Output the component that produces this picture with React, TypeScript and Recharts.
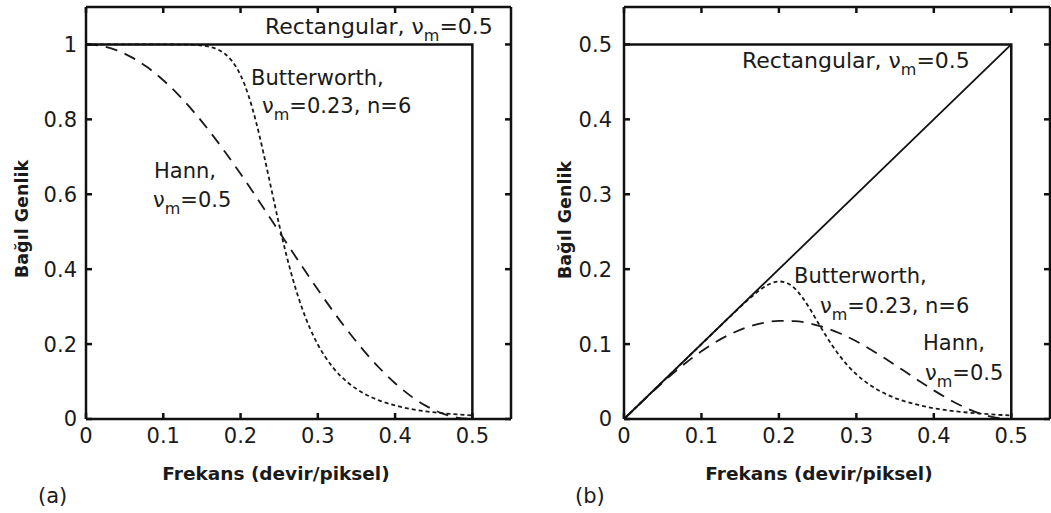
import { LineChart, Line, XAxis, YAxis } from 'recharts'

// frequency grids (devir/piksel)
const hannFreq = [0, 0.02, 0.04, 0.06, 0.08, 0.1, 0.12, 0.14, 0.16, 0.18, 0.2, 0.22, 0.24, 0.26, 0.28, 0.3, 0.32, 0.34, 0.36, 0.38, 0.4, 0.42, 0.44, 0.46, 0.48, 0.5]
const buttFreq = [0, 0.04, 0.08, 0.1, 0.12, 0.14, 0.15, 0.16, 0.17, 0.18, 0.19, 0.2, 0.21, 0.22, 0.23, 0.24, 0.25, 0.26, 0.27, 0.28, 0.29, 0.3, 0.32, 0.34, 0.36, 0.38, 0.4, 0.42, 0.44, 0.46, 0.48, 0.5]

// (a) filter amplitude
const hannA = [1, 0.9961, 0.9843, 0.9649, 0.9382, 0.9045, 0.8645, 0.8187, 0.7679, 0.7129, 0.6545, 0.5937, 0.5314, 0.4686, 0.4063, 0.3455, 0.2871, 0.2321, 0.1813, 0.1355, 0.0955, 0.0618, 0.0351, 0.0157, 0.0039, 0]
const buttA = [1, 1, 1, 1, 0.9998, 0.9987, 0.9971, 0.9936, 0.987, 0.9746, 0.953, 0.9181, 0.8654, 0.7939, 0.7071, 0.6124, 0.5185, 0.4322, 0.357, 0.2937, 0.2415, 0.199, 0.1366, 0.0954, 0.0679, 0.0491, 0.0361, 0.027, 0.0204, 0.0156, 0.0121, 0.0095]
const rectAFreq = [0, 0.5, 0.5]
const rectA = [1, 1, 0]

// (b) filter x ramp
const hannB = [0, 0.0199, 0.0394, 0.0579, 0.0751, 0.0905, 0.1037, 0.1146, 0.1229, 0.1283, 0.1309, 0.1306, 0.1275, 0.1218, 0.1138, 0.1037, 0.0919, 0.0789, 0.0653, 0.0515, 0.0382, 0.026, 0.0154, 0.0072, 0.0019, 0]
const buttB = [0, 0.04, 0.08, 0.1, 0.12, 0.1398, 0.1496, 0.159, 0.1678, 0.1754, 0.1811, 0.1836, 0.1817, 0.1747, 0.1626, 0.147, 0.1296, 0.1124, 0.0964, 0.0822, 0.07, 0.0597, 0.0437, 0.0324, 0.0244, 0.0187, 0.0144, 0.0113, 0.009, 0.0072, 0.0058, 0.0048]
const rampFreq = [0, 0.5]
const ramp = [0, 0.5]
const rectBFreq = [0, 0.5, 0.5]
const rectB = [0.5, 0.5, 0]

const xTicks = [0, 0.1, 0.2, 0.3, 0.4, 0.5]
const yTicksA = [0, 0.2, 0.4, 0.6, 0.8, 1]
const yTicksB = [0, 0.1, 0.2, 0.3, 0.4, 0.5]

const zip = (xs: number[], ys: number[]) => xs.map((x, i) => ({ x, y: ys[i] }))

const FONT = 'DejaVu Sans'
const INK = '#1a1a1a'
const frame = { stroke: '#111', strokeWidth: 2.5 }
const tickStyle = { fontSize: 21, fill: INK, fontFamily: FONT }
const noLabel = () => <g />

type PanelProps = {
  width: number
  left: number
  right: number
  yMax: number
  yTicks: number[]
  yMargin: number
  hann: number[]
  butt: number[]
  children?: React.ReactNode
}

function Panel({ width, left, right, yMax, yTicks, yMargin, hann, butt, children }: PanelProps) {
  return (
    <LineChart width={width} height={513} margin={{ top: 6, right, bottom: 64, left }}>
      <XAxis
        xAxisId="b"
        dataKey="x"
        type="number"
        domain={[0, 0.55]}
        ticks={xTicks}
        interval={0}
        tickSize={-6}
        tickMargin={15}
        height={30}
        axisLine={frame}
        tickLine={frame}
        tick={tickStyle}
      />
      <XAxis
        xAxisId="t"
        orientation="top"
        dataKey="x"
        type="number"
        domain={[0, 0.55]}
        ticks={xTicks}
        interval={0}
        tickSize={-6}
        height={1}
        axisLine={frame}
        tickLine={frame}
        tick={noLabel}
      />
      <YAxis
        yAxisId="l"
        type="number"
        domain={[0, yMax]}
        ticks={yTicks}
        interval={0}
        tickSize={-6}
        tickMargin={yMargin}
        width={60}
        axisLine={frame}
        tickLine={frame}
        tick={tickStyle}
      />
      <YAxis
        yAxisId="r"
        orientation="right"
        type="number"
        domain={[0, yMax]}
        ticks={yTicks}
        interval={0}
        tickSize={-6}
        width={1}
        axisLine={frame}
        tickLine={frame}
        tick={noLabel}
      />
      <Line
        xAxisId="b"
        yAxisId="l"
        data={zip(hannFreq, hann)}
        dataKey="y"
        type="monotone"
        stroke={INK}
        strokeWidth={1.8}
        strokeDasharray="12 8"
        dot={false}
        isAnimationActive={false}
      />
      <Line
        xAxisId="b"
        yAxisId="l"
        data={zip(buttFreq, butt)}
        dataKey="y"
        type="monotone"
        stroke={INK}
        strokeWidth={1.8}
        strokeDasharray="4 3"
        dot={false}
        isAnimationActive={false}
      />
      {children}
    </LineChart>
  )
}

// "<prefix>ν_m<rest>" with a subscript m
function Nu({ x, y, prefix = '', rest, size }: { x: number; y: number; prefix?: string; rest: string; size?: number }) {
  return (
    <text x={x} y={y} fontSize={size}>
      {prefix}ν<tspan dy={7} fontSize={16}>m</tspan>
      <tspan dy={-7}>{rest}</tspan>
    </text>
  )
}

export default function App() {
  return (
    <div style={{ position: 'absolute', left: 0, top: 0, width: 1051, height: 513, background: '#fff' }}>
      <div style={{ position: 'absolute', left: 0, top: 0 }}>
        <Panel width={530} left={26} right={18} yMax={1.1} yTicks={yTicksA} yMargin={15} hann={hannA} butt={buttA}>
          <Line
            xAxisId="t"
            yAxisId="r"
            data={zip(rectAFreq, rectA)}
            dataKey="y"
            type="linear"
            stroke="#111"
            strokeWidth={2.5}
            dot={false}
            isAnimationActive={false}
          />
        </Panel>
      </div>
      <div style={{ position: 'absolute', left: 530, top: 0 }}>
        <Panel width={521} left={34} right={0} yMax={0.55} yTicks={yTicksB} yMargin={18} hann={hannB} butt={buttB}>
          <Line
            xAxisId="t"
            yAxisId="r"
            data={zip(rectBFreq, rectB)}
            dataKey="y"
            type="linear"
            stroke="#111"
            strokeWidth={2.5}
            dot={false}
            isAnimationActive={false}
          />
          <Line
            xAxisId="t"
            yAxisId="r"
            data={zip(rampFreq, ramp)}
            dataKey="y"
            type="linear"
            stroke="#111"
            strokeWidth={1.8}
            dot={false}
            isAnimationActive={false}
          />
        </Panel>
      </div>
      <svg
        width={1051}
        height={513}
        style={{ position: 'absolute', left: 0, top: 0, pointerEvents: 'none' }}
        fontFamily={FONT}
        fontSize={21}
        fill={INK}
      >
        <Nu x={265} y={34} prefix="Rectangular, " rest="=0.5" size={22} />
        <text x={251} y={85}>Butterworth,</text>
        <Nu x={262} y={113} rest="=0.23, n=6" />
        <text x={154} y={178}>Hann,</text>
        <Nu x={153} y={207} rest="=0.5" />

        <Nu x={742} y={68} prefix="Rectangular, " rest="=0.5" size={22} />
        <text x={794} y={283}>Butterworth,</text>
        <Nu x={820} y={313} rest="=0.23, n=6" />
        <text x={923} y={350}>Hann,</text>
        <Nu x={925} y={380} rest="=0.5" />

        <text x={38} y={503}>(a)</text>
        <text x={575} y={503}>(b)</text>

        <g fontWeight="bold">
          <text x={276} y={480} textAnchor="middle" fontSize={18.5}>Frekans (devir/piksel)</text>
          <text x={819} y={480} textAnchor="middle" fontSize={18.5}>Frekans (devir/piksel)</text>
          <text transform="translate(28,219) rotate(-90)" textAnchor="middle" fontSize={17.5}>Bağıl Genlik</text>
          <text transform="translate(571,220) rotate(-90)" textAnchor="middle" fontSize={17.5}>Bağıl Genlik</text>
        </g>
      </svg>
    </div>
  )
}
